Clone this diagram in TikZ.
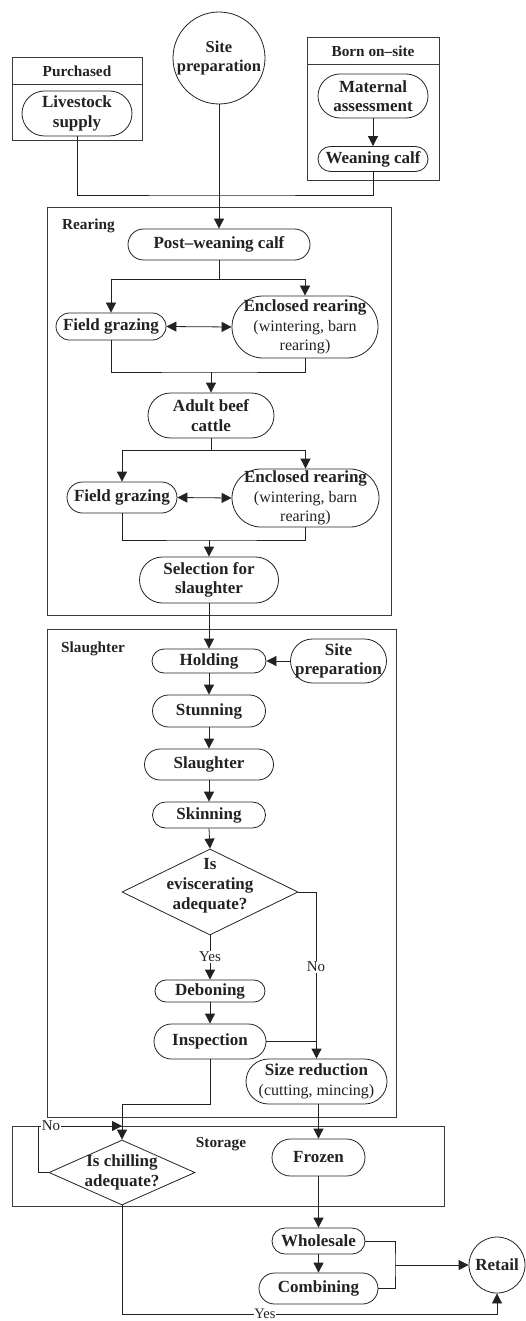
\documentclass[tikz,border=0pt]{standalone}
\usepackage{fontspec}
\setmainfont{Liberation Serif}
\usetikzlibrary{arrows.meta,shapes.geometric,calc}
\definecolor{ink}{HTML}{222222}
\definecolor{frame}{HTML}{3A3A3A}
\begin{document}
\begin{tikzpicture}[x=1pt,y=-1pt,color=ink,line width=0.8pt,
  pill/.style 2 args={draw, rectangle, rounded corners=0.5*#2, minimum width=#1, minimum height=#2,
    inner sep=0pt, align=center, font=\fontsize{17}{19.5}\selectfont\bfseries},
  circ/.style={draw, circle, minimum size=#1, inner sep=0pt, align=center,
    font=\fontsize{16.5}{19.5}\selectfont\bfseries},
  dia/.style 2 args={draw, diamond, minimum width=#1, minimum height=#2, inner sep=0pt},
  dtext/.style={align=center, inner sep=0pt, font=\fontsize{17}{20}\selectfont\bfseries},
  lab/.style={inner sep=0pt, font=\fontsize{15.3}{18}\selectfont\bfseries},
  yn/.style={inner sep=1pt, fill=white, font=\fontsize{15}{17}\selectfont},
  arr/.style={-{Triangle[length=10pt,width=10pt]}},
  dbl/.style={{Triangle[length=10pt,width=10pt]}-{Triangle[length=10pt,width=10pt]}},
  box/.style={draw=frame}]
\useasboundingbox (0,0) rectangle (525,1321);

% ---- top containers
\draw[box] (12,57) rectangle (142,140);
\draw[box] (12,84) -- (142,84);
\node[lab] (purchT) at (77,71) {Purchased};
\draw[box] (307,37) rectangle (439,180);
\draw[box] (307,64) -- (439,64);
\node[lab] (bornT) at (373,51) {Born on–site};

\node[pill={110pt}{45pt}] (livestock) at (77,113.5) {Livestock\\supply};
\node[circ=92pt] (site) at (219,58) {Site\\preparation};
\node[pill={110pt}{44pt}] (maternal) at (373,96) {Maternal\\assessment};
\node[pill={110pt}{25pt}] (weaning) at (373,159) {Weaning calf};
\draw[arr] (maternal.south) -- (weaning.north);

% ---- Rearing
\draw[box] (47,207) rectangle (391,615);
\node[lab] (rearT) at (88.5,226) {Rearing};
\node[pill={182pt}{31pt}] (post) at (219,244.5) {Post–weaning calf};
\node[pill={110pt}{27pt}] (field1) at (111,326.5) {Field grazing};
\node[pill={146pt}{62pt}] (encl1) at (305,327) {Enclosed rearing\\{\fontsize{16}{19}\selectfont\mdseries (wintering, barn}\\{\fontsize{16}{19}\selectfont\mdseries rearing)}};
\node[pill={126pt}{45pt}] (adult) at (211,415.5) {Adult beef\\cattle};
\node[pill={110pt}{31pt}] (field2) at (122,497.5) {Field grazing};
\node[pill={147pt}{58pt}] (encl2) at (305.5,498) {Enclosed rearing\\{\fontsize{16}{19}\selectfont\mdseries (wintering, barn}\\{\fontsize{16}{19}\selectfont\mdseries rearing)}};
\node[pill={139pt}{46pt}] (select) at (209,580) {Selection for\\slaughter};

\coordinate (j1) at (219,195);
\draw (livestock.south) |- (j1) -| (weaning.south);
\draw[arr] (site.south) -- (post.north);
\coordinate (j2) at (219,279);
\draw (post.south) -- (j2);
\draw[arr] (j2) -| (field1.north);
\draw[arr] (j2) -| (encl1.north);
\draw[dbl] (field1.east) -- (encl1.west);
\coordinate (j3) at (211,372);
\draw (field1.south) |- (j3) -| (encl1.south);
\draw[arr] (j3) -- (adult.north);
\coordinate (j4) at (211,450);
\draw (adult.south) -- (j4);
\draw[arr] (j4) -| (field2.north);
\draw[arr] (j4) -| (encl2.north);
\draw[dbl] (field2.east) -- (encl2.west);
\coordinate (j5) at (209,540);
\draw (field2.south) |- (j5) -| (encl2.south);
\draw[arr] (j5) -- (select.north);

% ---- Slaughter
\draw[box] (47,629) rectangle (396,1117);
\node[lab] (slT) at (93,649) {Slaughter};
\node[pill={114pt}{24pt}] (holding) at (209,661) {Holding};
\node[pill={96pt}{44pt}] (sitep2) at (338.5,661) {Site\\preparation};
\node[pill={113pt}{32pt}] (stunning) at (209,711) {Stunning};
\node[pill={129pt}{31pt}] (slaughter) at (209,764.5) {Slaughter};
\node[pill={113pt}{26pt}] (skinning) at (209,815) {Skinning};
\node[dia={176pt}{86pt}] (evis) at (210,892) {};
\node[dtext] (evisT) at (210,886) {Is\\eviscerating\\adequate?};
\node[pill={110pt}{22pt}] (deboning) at (210,991) {Deboning};
\node[pill={112pt}{35pt}] (inspection) at (210,1041.5) {Inspection};
\node[pill={141pt}{45pt}] (sizered) at (316.5,1081.5) {Size reduction\\{\fontsize{16}{19}\selectfont\mdseries (cutting, mincing)}};

\draw[arr] (select.south) -- (select.south |- holding.north);
\draw[arr] (sitep2.west) -- (holding.east);
\draw[arr] (holding.south) -- (stunning.north);
\draw[arr] (stunning.south) -- (slaughter.north);
\draw[arr] (slaughter.south) -- (skinning.north);
\draw[arr] (skinning.south) -- (evis.north);
\draw[arr] (evis.east) -| (sizered.north);
\node[yn] (no1) at (316,967) {No};
\draw[arr] (evis.south) -- (deboning.north);
\node[yn] (yes1) at (210,957) {Yes};
\draw[arr] (deboning.south) -- (inspection.north);
\draw (inspection.east) -- (inspection.east -| sizered.north);

% ---- Storage
\draw[box] (12,1126) rectangle (444,1206);
\node[lab] (stT) at (221,1144) {Storage};
\node[dia={146pt}{65pt}] (chill) at (122,1172.5) {};
\node[dtext] (chillT) at (122,1172) {Is chilling\\adequate?};
\node[pill={93pt}{37pt}] (frozen) at (318.5,1157.5) {Frozen};
\node[pill={93pt}{26pt}] (wholesale) at (318.5,1241) {Wholesale};
\node[pill={119pt}{31pt}] (combining) at (318.5,1288.5) {Combining};
\node[circ=56pt, font=\fontsize{17}{19.5}\selectfont\bfseries] (retail) at (497,1265) {Retail};

\coordinate (j6) at (122,1104);
\draw[arr] (inspection.south) |- (j6) -- (chill.north);
\draw[arr] (frozen.north |- sizered.south) -- (frozen.north);
\coordinate (c1) at (38,1126);
\coordinate (c2) at (122,1126);
\draw[arr] (chill.west) -| (c1) -- (c2);
\node[yn, inner sep=0.5pt] (no2) at (51,1126) {No};
\draw[arr] (frozen.south) -- (wholesale.north);
\draw[arr] (wholesale.south) -- (combining.north);
\coordinate (j7) at (395,1265);
\draw (wholesale.east) -| (j7) |- (combining.east);
\draw[arr] (j7) -- (retail.west);
\coordinate (j8) at (122,1314);
\draw[arr] (chill.south) -- (j8) -| (retail.south);
\node[yn, inner sep=0.5pt, font=\fontsize{14.5}{16}\selectfont] (yes2) at (265,1313.5) {Yes};
\end{tikzpicture}
\end{document}
